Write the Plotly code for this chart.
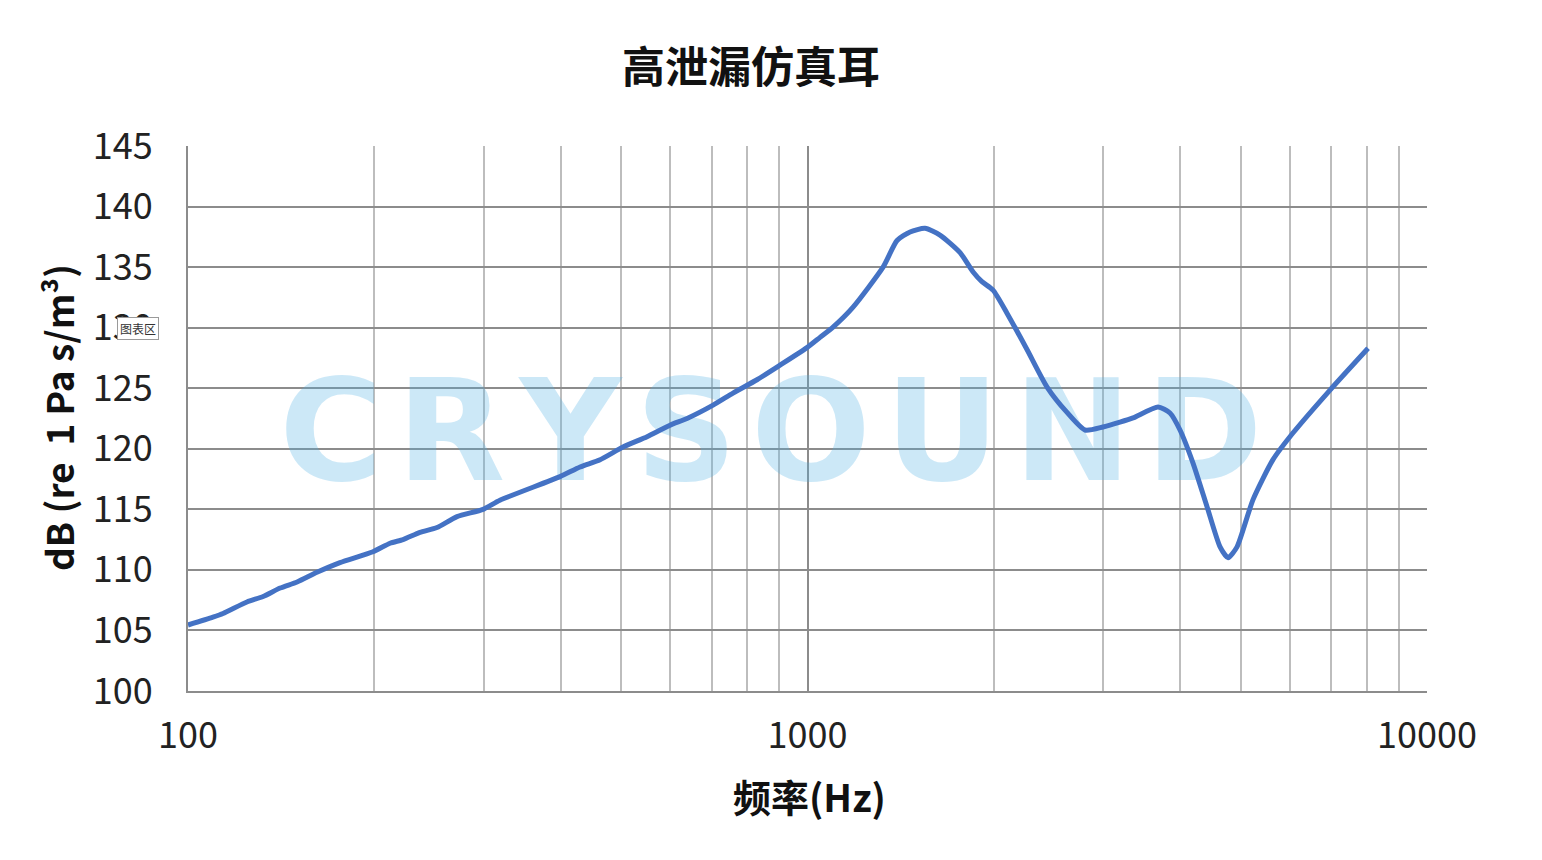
import plotly.graph_objects as go

title_text = "高泄漏仿真耳"
x_title = "频率(Hz)"
y_title = "dB (re\u00a0 1 Pa s/m³)"

freq_hz = [100, 109.7, 113.9, 124.5, 132.2, 140.8, 150.0, 161.5, 175.9, 198.9,
           211.9, 222.4, 236.8, 252.3, 271.8, 299.4, 318.8, 398.6, 429.4, 462.6,
           503.8, 550.8, 600.0, 639.1, 704.0, 758.2, 828.8, 902.7, 998, 1047.6,
           1099.6, 1184.6, 1324.3, 1394.9, 1464, 1547.6, 1636.3, 1763.2, 1850.7, 1912.4,
           1993, 2099, 2261, 2436, 2624, 2805, 2999, 3194, 3353, 3680,
           3847, 3993, 4192, 4416, 4634, 4774, 4936, 5238, 5641, 6075,
           6973, 8033]
level_db = [105.45, 106.1, 106.4, 107.35, 107.8, 108.5, 109.0, 109.8, 110.6, 111.5,
            112.2, 112.5, 113.1, 113.5, 114.4, 115.0, 115.75, 117.7, 118.5, 119.1,
            120.15, 121.0, 121.95, 122.5, 123.6, 124.6, 125.7, 126.9, 128.35, 129.2,
            130.05, 131.7, 135.0, 137.2, 137.9, 138.2, 137.65, 136.2, 134.6, 133.8,
            133.1, 131.2, 128.2, 125.1, 123.0, 121.55, 121.8, 122.2, 122.55, 123.45,
            122.95, 121.55, 118.8, 115.2, 111.9, 111.0, 111.9, 115.8, 119.1, 121.3,
            124.85, 128.3]

y_ticks = [100, 105, 110, 115, 120, 125, 130, 135, 140, 145]
x_major = [100, 1000, 10000]
x_major_labels = ["100", "1000", "10000"]
x_minor = [200, 300, 400, 500, 600, 700, 800, 900,
           2000, 3000, 4000, 5000, 6000, 7000, 8000, 9000]

watermark = "C\u200aR\u200aY\u200aS\u200aO\u200aU\u200aN\u200aD"

# page offset of the figure (body margin) is 8 px
L, R, T, B = 180, 123, 138, 177
PW = 1542 - L - R
PH = 860 - T - B

fig = go.Figure()
fig.add_trace(go.Scatter(
    x=[873], y=[120.3], mode="text", text=[watermark],
    textfont=dict(family="DejaVu Sans", size=141, weight="bold",
                  color="rgba(80,175,228,0.29)"),
    hoverinfo="skip", showlegend=False))
fig.add_trace(go.Scatter(
    x=freq_hz, y=level_db, mode="lines",
    line=dict(color="#4472C4", width=5, shape="spline", smoothing=0.6),
    showlegend=False))

grid_dark = "#8c8c8c"
grid_light = "#bdbdbd"
tick_font = dict(family="Noto Sans CJK SC", size=36, color="#222222")

fig.update_layout(
    width=1542, height=860,
    paper_bgcolor="white", plot_bgcolor="white",
    margin=dict(l=L, r=R, t=T, b=B),
    title=dict(text="<b>" + title_text + "</b>", x=(751 - 8 - L) / PW, xref="paper",
               y=1 - (68 - 8) / 860, yanchor="middle", xanchor="center",
               font=dict(family="Noto Sans CJK SC", size=43, color="#111111")),
    xaxis=dict(type="log", range=[2, 4], tickvals=x_major, ticktext=x_major_labels,
               showgrid=True, gridcolor=grid_dark, gridwidth=2,
               showline=True, linecolor=grid_dark, linewidth=2,
               ticks="", ticklabelstandoff=12, tickfont=tick_font, zeroline=False,
               minor=dict(tickvals=x_minor, showgrid=True, gridcolor=grid_light,
                          gridwidth=1.5, ticks="")),
    yaxis=dict(range=[100, 145], tickvals=y_ticks,
               showgrid=True, gridcolor=grid_dark, gridwidth=2,
               showline=True, linecolor=grid_dark, linewidth=2,
               ticks="", ticklabelstandoff=26, tickfont=tick_font, zeroline=False),
    annotations=[
        dict(text="<b>" + x_title + "</b>", xref="paper", yref="paper",
             x=(809 - 8 - L) / PW, y=-(795 - 691) / PH, xanchor="center", yanchor="middle",
             showarrow=False,
             font=dict(family="Noto Sans CJK SC", size=38, color="#111111")),
        dict(text="<b>" + y_title + "</b>", xref="paper", yref="paper",
             x=(58 - 8 - L) / PW, y=(691 - 418) / PH, xanchor="center",
             yanchor="middle", textangle=-90, showarrow=False,
             font=dict(family="Noto Sans CJK SC", size=37, color="#111111")),
        dict(text="图表区", xref="paper", yref="paper",
             x=(138 - 8 - L) / PW, y=(691 - 328) / PH, xanchor="center",
             yanchor="middle", showarrow=False, bgcolor="white",
             bordercolor="#9a9a9a", borderwidth=1, borderpad=2,
             font=dict(family="Noto Sans CJK SC", size=12, color="#333333")),
    ],
)

fig.write_html("out.html")
